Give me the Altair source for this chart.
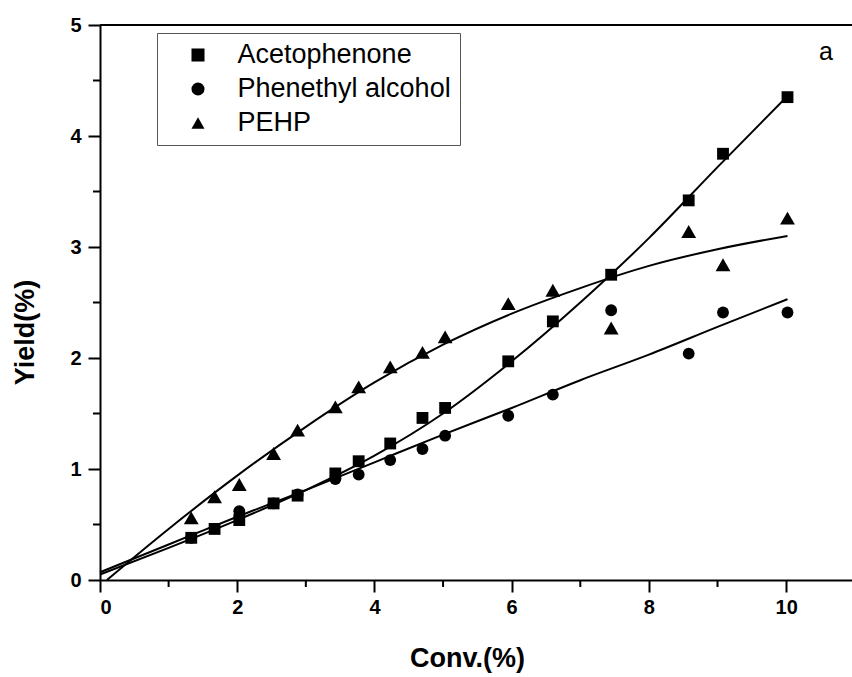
import altair as alt
import pandas as pd

# ---- data ----
series_names = ["Acetophenone", "Phenethyl alcohol", "PEHP"]
conv = [1.33, 1.67, 2.03, 2.53, 2.88, 3.43, 3.77, 4.23, 4.70, 5.03,
        5.95, 6.60, 7.45, 8.58, 9.08, 10.02]
aceto = [0.38, 0.46, 0.54, 0.69, 0.76, 0.96, 1.07, 1.23, 1.46, 1.55,
         1.97, 2.33, 2.75, 3.42, 3.84, 4.35]
conv_pa = [1.33, 2.03, 2.53, 2.88, 3.43, 3.77, 4.23, 4.70, 5.03,
           5.95, 6.60, 7.45, 8.58, 9.08, 10.02]
phen = [0.38, 0.62, 0.69, 0.77, 0.91, 0.95, 1.08, 1.18, 1.30,
        1.48, 1.67, 2.43, 2.04, 2.41, 2.41]
pehp = [0.56, 0.75, 0.86, 1.14, 1.35, 1.56, 1.74, 1.92, 2.05, 2.19,
        2.49, 2.61, 2.27, 3.14, 2.84, 3.26]

# fitted curves
fit_x_a = [0, 1, 2, 3, 4, 5, 6, 7, 8, 9, 10.02]
fit_a = [0.05, 0.29, 0.54, 0.81, 1.12, 1.50, 1.97, 2.50, 3.08, 3.72, 4.36]
fit_x_p = [0, 1, 2, 3, 4, 5, 6, 7, 8, 9, 10.02]
fit_p = [0.07, 0.32, 0.57, 0.81, 1.06, 1.31, 1.55, 1.80, 2.03, 2.28, 2.53]
fit_x_e = [0.1, 1, 2, 3, 4, 5, 6, 7, 8, 9, 10.02]
fit_e = [0.0, 0.46, 0.94, 1.38, 1.78, 2.12, 2.40, 2.63, 2.83, 2.98, 3.10]

x_major = [0, 2, 4, 6, 8, 10]
x_minor = [1, 3, 5, 7, 9]
y_major = [0, 1, 2, 3, 4, 5]
y_minor = [0.5, 1.5, 2.5, 3.5, 4.5]

sq_circ = pd.DataFrame(
    [{"x": a, "y": b, "s": series_names[0]} for a, b in zip(conv, aceto)]
    + [{"x": a, "y": b, "s": series_names[1]} for a, b in zip(conv_pa, phen)]
)
tri = pd.DataFrame(
    [{"x": a, "y": b, "s": series_names[2]} for a, b in zip(conv, pehp)]
)
fits = pd.DataFrame(
    [{"x": a, "y": b, "s": series_names[0]} for a, b in zip(fit_x_a, fit_a)]
    + [{"x": a, "y": b, "s": series_names[1]} for a, b in zip(fit_x_p, fit_p)]
    + [{"x": a, "y": b, "s": series_names[2]} for a, b in zip(fit_x_e, fit_e)]
)

FONT = "Liberation Sans"
PLOT_W, PLOT_H = 752, 555
xscale = alt.Scale(domain=[0, 10.96], nice=False, zero=False)
yscale = alt.Scale(domain=[0, 5], nice=False, zero=False)

x_axis = alt.Axis(values=x_major, format="d", tickSize=12, tickWidth=2,
                  domainWidth=2, domainColor="black", tickColor="black",
                  labelFont=FONT, labelFontSize=20, labelFontWeight="bold",
                  labelColor="black", labelPadding=5, grid=False,
                  title="Conv.(%)", titleFont=FONT, titleFontSize=27,
                  titleFontWeight="bold", titleColor="black",
                  titleX=367, titleY=78, titleBaseline="middle")
y_axis = alt.Axis(values=y_major, format="d", tickSize=12, tickWidth=2,
                  domainWidth=2, domainColor="black", tickColor="black",
                  labelFont=FONT, labelFontSize=20, labelFontWeight="bold",
                  labelColor="black", labelPadding=7, grid=False,
                  title="Yield(%)", titleFont=FONT, titleFontSize=27,
                  titleFontWeight="bold", titleColor="black",
                  titleX=-75, titleY=307, titleBaseline="middle",
                  titleAngle=270, titleAlign="center")

shape_enc = alt.Shape(
    "s:N",
    scale=alt.Scale(domain=series_names,
                    range=["square", "circle", "triangle-up"]),
    sort=series_names,
    legend=alt.Legend(
        title=None, orient="none", legendX=57, legendY=8,
        labelFont=FONT, labelFontSize=27, labelColor="black",
        symbolFillColor="black", symbolStrokeColor="black",
        symbolSize=170, symbolStrokeWidth=0,
        strokeColor="#555555", padding=8.5, rowPadding=6,
        symbolOffset=19, labelOffset=26,
        labelLimit=400, fillColor="white"),
)

lines = alt.Chart(fits).mark_line(color="black", strokeWidth=2,
                                  interpolate="monotone").encode(
    x=alt.X("x:Q", scale=xscale, axis=x_axis),
    y=alt.Y("y:Q", scale=yscale, axis=y_axis),
    detail="s:N",
)

points = alt.Chart(sq_circ).mark_point(filled=True, opacity=1, color="black",
                                       size=140).encode(
    x=alt.X("x:Q", scale=xscale, axis=x_axis),
    y=alt.Y("y:Q", scale=yscale, axis=y_axis),
    shape=shape_enc,
)
triangles = alt.Chart(tri).mark_point(filled=True, opacity=1, color="black",
                                      size=220).encode(
    x=alt.X("x:Q", scale=xscale, axis=x_axis),
    y=alt.Y("y:Q", scale=yscale, axis=y_axis),
    shape=shape_enc,
)

# minor ticks (no labels) on both axes, drawn from the minor tick lists
minor_x = alt.Chart(pd.DataFrame({"x": x_minor})).mark_rule(
    color="black", strokeWidth=2).encode(
    x=alt.X("x:Q", scale=xscale),
    y=alt.value(PLOT_H), y2=alt.value(PLOT_H + 7),
)
minor_y = alt.Chart(pd.DataFrame({"y": y_minor})).mark_rule(
    color="black", strokeWidth=2).encode(
    y=alt.Y("y:Q", scale=yscale),
    x=alt.value(-7), x2=alt.value(0),
)

top_rule = alt.Chart(pd.DataFrame({"y": [5]})).mark_rule(
    color="black", strokeWidth=2).encode(y=alt.Y("y:Q", scale=yscale))

label_a = alt.Chart(pd.DataFrame({"x": [10.58], "y": [4.76], "t": ["a"]})).mark_text(
    font=FONT, fontSize=25, color="black").encode(
    x=alt.X("x:Q", scale=xscale), y=alt.Y("y:Q", scale=yscale), text="t:N")

chart = alt.layer(lines, points, triangles, minor_x, minor_y, top_rule,
                  label_a).properties(
    width=PLOT_W, height=PLOT_H,
    autosize=alt.AutoSizeParams(type="none"),
    padding={"left": 100, "top": 25, "right": 0, "bottom": 97},
).configure_view(stroke=None).configure(background="white")

chart.save("out.html", embed_options={"renderer": "svg", "actions": False})
